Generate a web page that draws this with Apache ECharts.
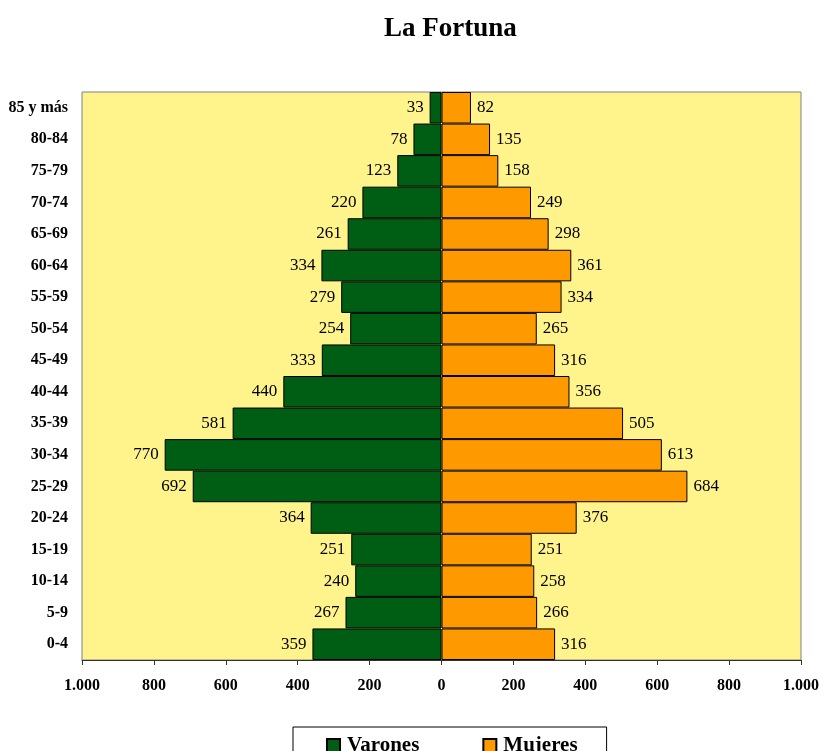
<!DOCTYPE html>
<html>
<head>
<meta charset="utf-8">
<script src="https://cdn.jsdelivr.net/npm/echarts@6/dist/echarts.min.js"></script>
<style>html,body{margin:0;padding:0;background:#fff;}#c{width:822px;height:751px;}</style>
</head>
<body>
<div id="c"></div>
<script>
const categories = ['0-4','5-9','10-14','15-19','20-24','25-29','30-34','35-39','40-44','45-49','50-54','55-59','60-64','65-69','70-74','75-79','80-84','85 y más'];
const varones = [359,267,240,251,364,692,770,581,440,333,254,279,334,261,220,123,78,33];
const mujeres = [316,266,258,251,376,684,613,505,356,316,265,334,361,298,249,158,135,82];
const xTicks = [-1000,-800,-600,-400,-200,0,200,400,600,800,1000];

const FONT = 'Liberation Serif';
function fmt(v){
  v = Math.abs(v);
  return v >= 1000 ? Math.floor(v/1000) + '.' + String(v%1000).padStart(3,'0') : String(v);
}
const chart = echarts.init(document.getElementById('c'), null, {renderer:'canvas'});
chart.setOption({
  animation:false,
  title:{text:'La Fortuna', left:379, top:11,
    textStyle:{fontFamily:FONT, fontSize:27, fontWeight:'bold', color:'#000'}},
  legend:{left:293, top:727, padding:[8,29,12,33], itemGap:63, itemWidth:13, itemHeight:13, icon:'rect',
    borderColor:'#000', borderWidth:1, backgroundColor:'#fff',
    textStyle:{fontFamily:FONT, fontSize:21, fontWeight:'bold', color:'#000', padding:[0,0,0,2]},
    data:['Varones','Mujeres']},
  grid:{left:82, right:19, top:92, bottom:91, show:true, backgroundColor:'#FFF38C', borderColor:'#808080', borderWidth:1},
  xAxis:{type:'value', min:xTicks[0], max:xTicks[xTicks.length-1], interval:200,
    axisLine:{show:true, lineStyle:{color:'#333', width:1}},
    axisTick:{show:true, length:5, lineStyle:{color:'#333'}},
    splitLine:{show:false},
    axisLabel:{fontFamily:FONT, fontSize:16, fontWeight:'bold', color:'#000', margin:18, formatter:fmt}},
  yAxis:{type:'category', data:categories,
    axisLine:{show:false}, axisTick:{show:false},
    axisLabel:{fontFamily:FONT, fontSize:16, fontWeight:'bold', color:'#000', margin:14}},
  series:[
    {name:'Varones', type:'bar', stack:'p', barCategoryGap:0, data:varones.map(v=>-v),
      itemStyle:{color:'#005E14', borderColor:'#000', borderWidth:1},
      label:{show:true, position:'left', distance:6, formatter:p=>fmt(p.value),
        fontFamily:FONT, fontSize:17, color:'#000'}},
    {name:'Mujeres', type:'bar', stack:'p', barCategoryGap:0, data:mujeres,
      itemStyle:{color:'#FF9900', borderColor:'#000', borderWidth:1},
      label:{show:true, position:'right', distance:6, formatter:p=>fmt(p.value),
        fontFamily:FONT, fontSize:17, color:'#000'}}
  ]
});
</script>
</body>
</html>
